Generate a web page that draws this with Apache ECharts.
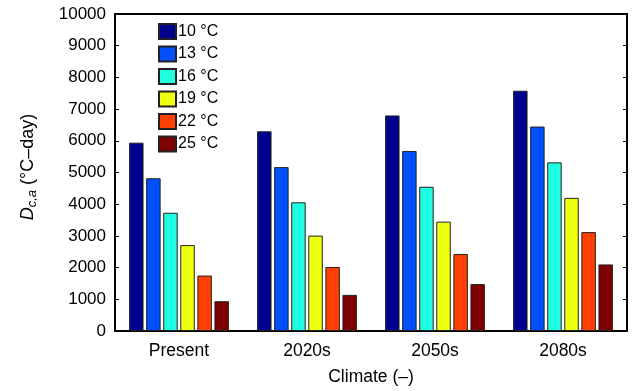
<!DOCTYPE html>
<html>
<head>
<meta charset="utf-8">
<script src="https://cdn.jsdelivr.net/npm/echarts@6/dist/echarts.min.js"></script>
<style>html,body{margin:0;padding:0;background:#fff}#c{width:643px;height:391px}</style>
</head>
<body>
<div id="c"></div>
<script>
var categories = ['Present', '2020s', '2050s', '2080s'];
var seriesNames = ['10 °C', '13 °C', '16 °C', '19 °C', '22 °C', '25 °C'];
var t10 = [5940, 6300, 6800, 7580];
var t13 = [4820, 5170, 5680, 6450];
var t16 = [3730, 4060, 4550, 5320];
var t19 = [2710, 3010, 3450, 4200];
var t22 = [1750, 2020, 2430, 3120];
var t25 = [940, 1140, 1480, 2100];
var yTicks = [0, 1000, 2000, 3000, 4000, 5000, 6000, 7000, 8000, 9000, 10000];
var colors = ['#00008f', '#0050ff', '#20ffdf', '#efff10', '#ff4000', '#7f0000'];
var values = [t10, t13, t16, t19, t22, t25];

var FONT = 'Liberation Sans';
var chart = echarts.init(document.getElementById('c'), null, {renderer: 'canvas'});
var series = values.map(function (v, i) {
  return {
    name: seriesNames[i],
    type: 'bar',
    data: v,
    barCategoryGap: '22%',
    barGap: '18%',
    itemStyle: {color: colors[i], borderColor: '#222', borderWidth: 1},
    emphasis: {disabled: true}
  };
});
chart.setOption({
  animation: false,
  textStyle: {fontFamily: FONT, color: '#000'},
  grid: {left: 115, right: 16, top: 14, bottom: 58},
  legend: {
    orient: 'vertical', left: 158, top: 23, padding: 0,
    itemWidth: 17, itemHeight: 15, itemGap: 5.5,
    icon: 'rect',
    textStyle: {fontFamily: FONT, fontSize: 16, lineHeight: 16, color: '#000', padding: [0, 0, 0, -3]},
    data: seriesNames
  },
  xAxis: [{
    type: 'category', data: categories, position: 'bottom',
    name: 'Climate (–)', nameLocation: 'middle', nameGap: 37,
    nameTextStyle: {fontFamily: FONT, fontSize: 17.5, color: '#000'},
    axisLine: {onZero: false, lineStyle: {color: '#000', width: 2}},
    axisTick: {inside: true, alignWithLabel: true, length: 4, lineStyle: {color: '#555'}},
    axisLabel: {fontFamily: FONT, fontSize: 17.5, color: '#000', margin: 11}
  }, {
    type: 'category', data: categories, position: 'top',
    axisLine: {onZero: false, lineStyle: {color: '#000', width: 2}},
    axisTick: {inside: true, alignWithLabel: true, length: 4, lineStyle: {color: '#000'}},
    axisLabel: {show: false}
  }],
  yAxis: [{
    type: 'value', min: 0, max: 10000, interval: 1000, position: 'left',
    name: '{d|D}{s|c,a} (°C–day)', nameLocation: 'middle', nameRotate: 90, nameGap: 76,
    nameTextStyle: {
      fontFamily: FONT, fontSize: 18, color: '#000', padding: [0, 0, 0, 11],
      rich: {
        d: {fontFamily: FONT, fontSize: 18, fontStyle: 'italic', color: '#000'},
        s: {fontFamily: FONT, fontSize: 13, fontStyle: 'italic', color: '#000', verticalAlign: 'bottom', padding: [9, 0, 0, 0]}
      }
    },
    axisLine: {show: true, onZero: false, lineStyle: {color: '#000', width: 2}},
    axisTick: {show: true, inside: true, length: 4, lineStyle: {color: '#000'}},
    splitLine: {show: false},
    axisLabel: {fontFamily: FONT, fontSize: 17, color: '#000', margin: 9,
      formatter: function (v) { return yTicks.indexOf(v) >= 0 ? String(v) : ''; }}
  }, {
    type: 'value', min: 0, max: 10000, interval: 1000, position: 'right',
    axisLine: {show: true, onZero: false, lineStyle: {color: '#000', width: 2}},
    axisTick: {show: true, inside: true, length: 4, lineStyle: {color: '#000'}},
    splitLine: {show: false},
    axisLabel: {show: false}
  }],
  series: series
});
</script>
</body>
</html>
